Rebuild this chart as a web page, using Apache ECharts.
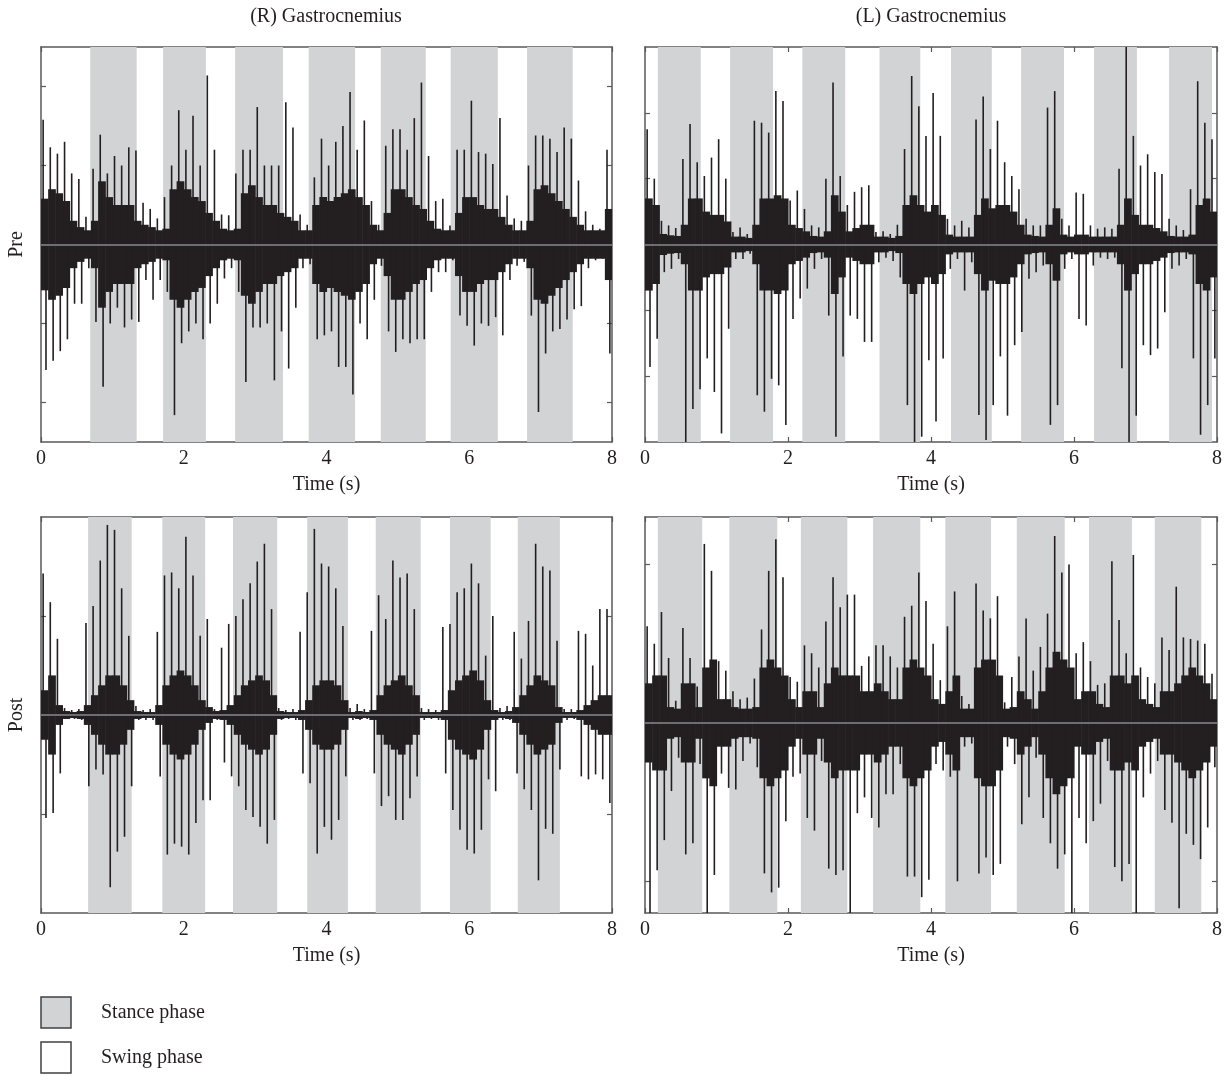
<!DOCTYPE html>
<html>
<head>
<meta charset="utf-8">
<title>Gastrocnemius EMG, pre / post</title>
<script src="https://cdn.jsdelivr.net/npm/echarts@6/dist/echarts.min.js"></script>
<style>
  html, body { margin: 0; padding: 0; background: #fff; }
  #chart { width: 1231px; height: 1076px; }
</style>
</head>
<body>
<div id="chart"></div>
<script>
// width of one envelope bin, seconds (80 bins over 8 s)
const BIN = 0.1
const timeTicks = [0, 2, 4, 6, 8]

// stance phase bands [start, end] in seconds
const preRStance = [[0.69, 1.34], [1.71, 2.31], [2.72, 3.39], [3.75, 4.40], [4.76, 5.39], [5.74, 6.40], [6.81, 7.45]]
const preLStance = [[0.18, 0.78], [1.19, 1.79], [2.20, 2.80], [3.28, 3.85], [4.28, 4.85], [5.26, 5.86], [6.28, 6.88], [7.33, 7.93]]
const postRStance = [[0.66, 1.27], [1.70, 2.30], [2.69, 3.31], [3.73, 4.30], [4.69, 5.32], [5.73, 6.30], [6.68, 7.27]]
const postLStance = [[0.18, 0.80], [1.18, 1.85], [2.18, 2.83], [3.19, 3.85], [4.20, 4.84], [5.20, 5.87], [6.21, 6.81], [7.13, 7.78]]

// EMG envelope per 0.1 s bin: peak up, peak down (magnitude), dense core half-width
const preRHi = [1.58, 1.23, 1.15, 1.30, 0.90, 0.83, 0.35, 0.96, 1.39, 0.90,
  1.12, 1.00, 1.23, 1.19, 0.53, 0.45, 0.33, 0.60, 1.00, 1.70,
  1.20, 1.63, 1.00, 2.14, 1.20, 0.38, 0.37, 0.90, 1.20, 1.20,
  1.74, 1.00, 1.00, 1.00, 1.80, 1.48, 0.38, 0.25, 0.85, 1.34,
  1.00, 1.30, 1.50, 1.93, 1.20, 1.57, 0.55, 0.25, 1.25, 1.46,
  1.46, 1.20, 1.60, 2.05, 1.12, 0.55, 0.58, 0.24, 1.20, 1.20,
  1.82, 1.17, 1.15, 1.02, 1.60, 0.62, 0.33, 0.30, 1.00, 1.38,
  1.38, 1.34, 1.17, 1.48, 1.34, 0.81, 0.42, 0.25, 0.20, 1.20]
const preRLo = [1.59, 1.47, 1.35, 1.20, 0.75, 0.75, 0.30, 0.98, 1.80, 1.00,
  0.80, 1.05, 0.95, 0.98, 0.45, 0.70, 0.45, 0.60, 2.16, 1.25,
  1.10, 1.00, 1.20, 1.00, 0.75, 0.43, 0.30, 0.60, 1.74, 1.05,
  1.05, 1.00, 1.72, 1.10, 1.57, 0.80, 0.30, 0.25, 1.20, 1.15,
  1.10, 1.55, 1.55, 1.90, 1.00, 1.20, 0.70, 0.27, 1.10, 1.36,
  1.20, 1.25, 1.20, 1.20, 0.60, 0.35, 0.35, 0.20, 0.90, 1.03,
  1.28, 1.00, 1.03, 0.92, 1.15, 0.45, 0.27, 0.22, 0.90, 2.12,
  1.38, 1.10, 1.07, 0.95, 0.82, 0.78, 0.30, 0.20, 0.18, 1.38]
const preRCore = [0.58, 0.70, 0.65, 0.55, 0.30, 0.22, 0.18, 0.30, 0.80, 0.60,
  0.50, 0.50, 0.50, 0.30, 0.25, 0.22, 0.18, 0.20, 0.70, 0.80,
  0.70, 0.60, 0.55, 0.40, 0.30, 0.20, 0.18, 0.20, 0.65, 0.75,
  0.60, 0.50, 0.50, 0.40, 0.35, 0.30, 0.18, 0.18, 0.50, 0.60,
  0.55, 0.60, 0.65, 0.70, 0.60, 0.50, 0.25, 0.18, 0.40, 0.70,
  0.70, 0.60, 0.50, 0.45, 0.30, 0.20, 0.18, 0.18, 0.40, 0.60,
  0.60, 0.50, 0.45, 0.45, 0.35, 0.25, 0.18, 0.18, 0.30, 0.70,
  0.75, 0.65, 0.55, 0.45, 0.35, 0.25, 0.18, 0.18, 0.18, 0.45]

const preLHi = [1.75, 1.00, 0.36, 0.29, 0.25, 1.30, 1.83, 1.25, 1.04, 1.32,
  1.60, 1.00, 0.19, 0.26, 0.16, 1.88, 1.85, 1.70, 2.33, 2.18,
  0.67, 0.82, 0.54, 0.29, 0.26, 1.00, 2.46, 1.04, 0.60, 0.80,
  0.87, 0.90, 0.19, 0.20, 0.16, 0.30, 1.45, 2.56, 2.10, 1.65,
  2.30, 1.65, 0.39, 0.29, 0.36, 0.26, 1.90, 2.25, 1.45, 1.88,
  1.25, 1.04, 0.84, 0.39, 0.29, 0.29, 2.08, 2.33, 0.39, 0.29,
  0.79, 0.77, 0.29, 0.24, 0.26, 0.24, 1.15, 3.00, 1.65, 1.20,
  1.37, 1.10, 1.07, 0.39, 0.29, 0.22, 0.84, 2.48, 1.85, 1.60]
const preLLo = [1.86, 1.43, 0.42, 0.37, 0.22, 3.00, 2.50, 2.20, 1.73, 2.24,
  2.87, 1.28, 0.22, 0.22, 0.14, 2.29, 2.54, 2.04, 2.14, 2.74,
  1.13, 0.82, 0.67, 0.37, 0.22, 1.08, 2.92, 1.70, 1.08, 1.13,
  1.48, 1.48, 0.27, 0.20, 0.25, 0.50, 2.44, 3.00, 2.92, 1.76,
  2.69, 1.73, 0.37, 0.22, 0.70, 0.27, 2.59, 2.97, 2.44, 1.70,
  2.60, 1.53, 1.33, 0.52, 0.42, 0.32, 2.74, 2.44, 0.37, 0.22,
  1.13, 1.23, 0.32, 0.20, 0.22, 0.20, 1.88, 3.00, 2.60, 1.53,
  1.68, 1.58, 1.03, 0.37, 0.32, 0.22, 1.73, 2.89, 2.44, 1.73]
const preLCore = [0.70, 0.60, 0.16, 0.14, 0.13, 0.30, 0.70, 0.70, 0.50, 0.45,
  0.45, 0.35, 0.12, 0.12, 0.10, 0.30, 0.70, 0.70, 0.75, 0.70,
  0.30, 0.25, 0.20, 0.13, 0.12, 0.20, 0.75, 0.50, 0.20, 0.25,
  0.30, 0.30, 0.12, 0.12, 0.10, 0.13, 0.60, 0.75, 0.60, 0.50,
  0.60, 0.45, 0.15, 0.12, 0.12, 0.12, 0.45, 0.70, 0.55, 0.60,
  0.60, 0.50, 0.30, 0.15, 0.13, 0.12, 0.30, 0.55, 0.15, 0.12,
  0.15, 0.15, 0.12, 0.12, 0.12, 0.12, 0.30, 0.70, 0.45, 0.30,
  0.30, 0.25, 0.20, 0.13, 0.12, 0.12, 0.15, 0.60, 0.70, 0.50]

const postRHi = [1.43, 1.14, 0.77, 0.07, 0.05, 0.06, 0.93, 1.10, 1.56, 1.92,
  1.87, 1.28, 0.80, 0.09, 0.05, 0.06, 0.84, 1.41, 1.44, 1.28,
  1.80, 1.41, 0.80, 0.97, 0.06, 0.68, 0.92, 1.00, 1.17, 1.33,
  1.55, 1.73, 1.07, 0.07, 0.05, 0.06, 0.84, 1.24, 1.88, 1.53,
  1.50, 1.28, 0.90, 0.07, 0.11, 0.06, 0.85, 1.21, 0.97, 1.56,
  1.39, 1.43, 1.07, 0.07, 0.06, 0.05, 0.89, 0.92, 1.24, 1.28,
  1.53, 1.33, 0.60, 1.00, 0.07, 0.09, 0.84, 0.57, 0.95, 1.73,
  1.50, 1.46, 0.75, 0.06, 0.06, 0.85, 0.82, 0.50, 1.07, 1.07]
const postRLo = [1.04, 0.99, 0.59, 0.04, 0.04, 0.05, 0.72, 0.55, 0.60, 1.74,
  1.38, 1.23, 0.72, 0.05, 0.05, 0.05, 0.62, 1.41, 1.30, 1.33,
  1.41, 1.09, 0.86, 0.86, 0.05, 0.48, 0.62, 0.72, 0.96, 1.03,
  1.13, 1.30, 1.06, 0.05, 0.04, 0.05, 0.59, 0.69, 1.40, 1.13,
  1.26, 1.06, 0.62, 0.05, 0.05, 0.04, 0.59, 0.92, 0.82, 1.06,
  1.06, 0.84, 0.62, 0.05, 0.04, 0.05, 0.59, 0.96, 1.16, 1.36,
  1.40, 1.16, 0.65, 0.77, 0.05, 0.05, 0.59, 0.75, 0.96, 1.67,
  1.15, 1.20, 0.55, 0.05, 0.04, 0.62, 0.65, 0.60, 0.65, 0.89]
const postRCore = [0.25, 0.40, 0.10, 0.04, 0.03, 0.04, 0.10, 0.20, 0.30, 0.40,
  0.40, 0.30, 0.15, 0.04, 0.03, 0.03, 0.10, 0.30, 0.40, 0.45,
  0.40, 0.30, 0.15, 0.08, 0.04, 0.05, 0.10, 0.20, 0.30, 0.35,
  0.40, 0.35, 0.20, 0.04, 0.03, 0.03, 0.05, 0.15, 0.30, 0.35,
  0.35, 0.30, 0.15, 0.03, 0.04, 0.03, 0.05, 0.20, 0.30, 0.35,
  0.40, 0.30, 0.20, 0.03, 0.03, 0.03, 0.05, 0.25, 0.35, 0.40,
  0.45, 0.35, 0.15, 0.05, 0.03, 0.04, 0.08, 0.20, 0.30, 0.40,
  0.35, 0.30, 0.08, 0.03, 0.03, 0.05, 0.10, 0.15, 0.20, 0.20]

const postLHi = [0.61, 0.50, 0.70, 0.41, 0.14, 0.60, 0.41, 0.23, 1.13, 0.96,
  0.39, 0.33, 0.20, 0.15, 0.16, 0.28, 0.59, 0.96, 1.16, 0.92,
  0.29, 0.26, 0.49, 0.44, 0.35, 0.64, 0.92, 0.73, 0.81, 0.81,
  0.36, 0.42, 0.49, 0.49, 0.42, 0.35, 0.67, 0.74, 0.95, 0.77,
  0.50, 0.27, 0.61, 0.83, 0.17, 0.12, 0.88, 0.71, 0.66, 0.80,
  0.13, 0.29, 0.42, 0.66, 0.33, 0.48, 0.69, 1.18, 0.95, 1.00,
  0.44, 0.51, 0.39, 0.24, 0.25, 1.02, 0.65, 0.44, 1.06, 0.35,
  0.29, 0.25, 0.54, 0.46, 0.86, 0.54, 0.53, 0.52, 0.50, 0.31]
const postLLo = [1.20, 0.93, 0.74, 0.43, 0.22, 0.83, 0.76, 0.26, 1.20, 0.96,
  0.32, 0.41, 0.42, 0.24, 0.13, 0.28, 0.95, 1.07, 1.04, 0.62,
  0.34, 0.32, 0.60, 0.68, 0.24, 0.92, 0.96, 0.93, 1.20, 0.57,
  0.47, 0.60, 0.66, 0.45, 0.45, 0.26, 0.97, 0.97, 1.10, 0.99,
  0.26, 0.30, 0.34, 1.00, 0.15, 0.13, 0.95, 0.85, 0.96, 0.89,
  0.15, 0.26, 0.64, 0.47, 0.22, 0.60, 0.76, 0.92, 0.83, 1.20,
  0.60, 0.76, 0.62, 0.51, 0.24, 0.91, 1.00, 0.89, 1.20, 0.47,
  0.32, 0.24, 0.55, 0.63, 1.17, 0.70, 0.77, 0.86, 0.66, 0.28]
const postLCore = [0.25, 0.30, 0.30, 0.10, 0.09, 0.25, 0.25, 0.10, 0.35, 0.40,
  0.15, 0.15, 0.10, 0.09, 0.09, 0.10, 0.35, 0.40, 0.35, 0.30,
  0.15, 0.10, 0.20, 0.20, 0.10, 0.25, 0.35, 0.30, 0.30, 0.30,
  0.20, 0.20, 0.25, 0.20, 0.15, 0.15, 0.35, 0.40, 0.35, 0.30,
  0.15, 0.12, 0.20, 0.30, 0.09, 0.09, 0.35, 0.40, 0.40, 0.30,
  0.09, 0.10, 0.20, 0.15, 0.09, 0.20, 0.35, 0.45, 0.40, 0.35,
  0.15, 0.20, 0.20, 0.12, 0.10, 0.30, 0.30, 0.25, 0.30, 0.15,
  0.12, 0.10, 0.20, 0.20, 0.25, 0.30, 0.35, 0.30, 0.25, 0.15]

const INK = '#231f20'
const FRAME = '#58595b'
const STANCE = '#d1d3d4'
const FONT = 'Liberation Serif'
const FS = 20

const panels = [
  { hi: preRHi, lo: preRLo, core: preRCore, stance: preRStance,
    left: 41, top: 47, width: 571, height: 395, yMin: -2.5, yMax: 2.5, yTicks: [-2, -1, 0, 1, 2], rowName: 'Pre' },
  { hi: preLHi, lo: preLLo, core: preLCore, stance: preLStance,
    left: 645, top: 47, width: 572, height: 395, yMin: -3, yMax: 3, yTicks: [-2, -1, 0, 1, 2], rowName: '' },
  { hi: postRHi, lo: postRLo, core: postRCore, stance: postRStance,
    left: 41, top: 517, width: 571, height: 396, yMin: -2, yMax: 2, yTicks: [-1, 0, 1], rowName: 'Post' },
  { hi: postLHi, lo: postLLo, core: postLCore, stance: postLStance,
    left: 645, top: 517, width: 572, height: 396, yMin: -1.2, yMax: 1.3, yTicks: [-1, 0, 1], rowName: '' },
]

// one bin = solid core block plus an up spike and a down spike
const renderBin = (params, api) => {
  const t = api.value(0)
  const c = api.value(3)
  const a = api.coord([t, c])
  const b = api.coord([t + BIN, -c])
  const up0 = api.coord([t + BIN * 0.3, 0])
  const up1 = api.coord([t + BIN * 0.3, api.value(1)])
  const dn0 = api.coord([t + BIN * 0.7, 0])
  const dn1 = api.coord([t + BIN * 0.7, -api.value(2)])
  const stroke = { stroke: INK, lineWidth: 1.6 }
  return {
    type: 'group',
    children: [
      { type: 'rect', shape: { x: a[0], y: a[1], width: b[0] - a[0] + 0.6, height: b[1] - a[1] }, style: { fill: INK } },
      { type: 'line', shape: { x1: up0[0], y1: up0[1], x2: up1[0], y2: up1[1] }, style: stroke },
      { type: 'line', shape: { x1: dn0[0], y1: dn0[1], x2: dn1[0], y2: dn1[1] }, style: stroke },
    ],
  }
}

const frameAxis = (extra) => ({
  type: 'value',
  axisLine: { show: true, onZero: false, lineStyle: { color: FRAME, width: 1.5 } },
  axisTick: { show: true, inside: true, length: 5, lineStyle: { color: FRAME, width: 1.2 } },
  splitLine: { show: false },
  axisLabel: { show: false },
  ...extra,
})

const grids = []
const xAxes = []
const yAxes = []
const series = []

panels.forEach((p, k) => {
  grids.push({ left: p.left, top: p.top, width: p.width, height: p.height, containLabel: false })

  xAxes.push(frameAxis({
    gridIndex: k, position: 'bottom', min: 0, max: 8, interval: 2,
    name: 'Time (s)', nameLocation: 'middle', nameGap: 33,
    nameTextStyle: { fontFamily: FONT, fontSize: FS, color: INK },
    axisLabel: { show: true, customValues: timeTicks, margin: 7, fontFamily: FONT, fontSize: FS, color: INK },
  }))
  xAxes.push(frameAxis({ gridIndex: k, position: 'top', min: 0, max: 8, interval: 2 }))

  const yTick = { show: true, inside: true, length: 5, customValues: p.yTicks, lineStyle: { color: FRAME, width: 1.2 } }
  yAxes.push(frameAxis({
    gridIndex: k, position: 'left', min: p.yMin, max: p.yMax, axisTick: yTick,
    name: p.rowName, nameLocation: 'middle', nameGap: 14,
    nameTextStyle: { fontFamily: FONT, fontSize: FS, color: INK },
  }))
  yAxes.push(frameAxis({ gridIndex: k, position: 'right', min: p.yMin, max: p.yMax, axisTick: yTick }))

  const ax = { xAxisIndex: 2 * k, yAxisIndex: 2 * k }

  // stance phase bands
  series.push({
    type: 'line', ...ax, z: 1, data: [], silent: true,
    markArea: {
      silent: true,
      itemStyle: { color: STANCE },
      data: p.stance.map((s) => [{ xAxis: s[0] }, { xAxis: s[1] }]),
    },
  })
  // EMG trace
  series.push({
    type: 'custom', ...ax, z: 2, silent: true, clip: true,
    data: p.hi.map((h, i) => [i * BIN, h, p.lo[i], p.core[i]]),
    renderItem: renderBin,
  })
  // zero line
  series.push({
    type: 'line', ...ax, z: 5, data: [], silent: true,
    markLine: {
      silent: true, symbol: ['none', 'none'], label: { show: false },
      lineStyle: { color: '#6d6e71', width: 2, type: 'solid' },
      data: [{ yAxis: 0 }],
    },
  })
})

const textStyle = { fontFamily: FONT, fontSize: FS, fill: INK }

const option = {
  animation: false,
  backgroundColor: '#fff',
  grid: grids,
  xAxis: xAxes,
  yAxis: yAxes,
  series: series,
  graphic: [
    { type: 'text', x: 326, y: 17, style: { ...textStyle, text: '(R) Gastrocnemius', align: 'center', verticalAlign: 'middle' } },
    { type: 'text', x: 931, y: 17, style: { ...textStyle, text: '(L) Gastrocnemius', align: 'center', verticalAlign: 'middle' } },
    // legend
    { type: 'rect', shape: { x: 41, y: 997, width: 30, height: 31 }, style: { fill: STANCE, stroke: '#414042', lineWidth: 1.5 } },
    { type: 'text', x: 101, y: 1013, style: { ...textStyle, text: 'Stance phase', verticalAlign: 'middle' } },
    { type: 'rect', shape: { x: 41, y: 1042, width: 30, height: 31 }, style: { fill: '#fff', stroke: '#414042', lineWidth: 1.5 } },
    { type: 'text', x: 101, y: 1058, style: { ...textStyle, text: 'Swing phase', verticalAlign: 'middle' } },
  ],
}

const myChart = echarts.init(document.getElementById('chart'))
option && myChart.setOption(option)
</script>
</body>
</html>
